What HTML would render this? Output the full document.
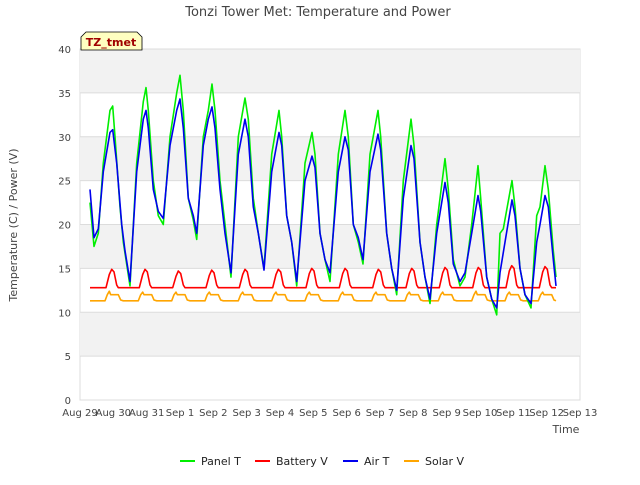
<!DOCTYPE html>
<html><head><meta charset="utf-8"><style>
body{margin:0;background:#fff;font-family:"Liberation Sans","DejaVu Sans",sans-serif}
svg text{font-family:"DejaVu Sans","Liberation Sans",sans-serif}
</style></head><body>
<svg id="c" width="640" height="480">
<rect x="0" y="0" width="640" height="480" fill="#fff"/>
<text x="318" y="16" text-anchor="middle" font-size="13" fill="#444">Tonzi Tower Met: Temperature and Power</text>
<g id="bands"></g><g id="grid"></g><g id="axes"></g><g id="series"></g>
<text x="17" y="225" text-anchor="middle" font-size="11" fill="#444" transform="rotate(-90 17 225)">Temperature (C) / Power (V)</text>
<text x="566" y="433" text-anchor="middle" font-size="11" fill="#444">Time</text>
<g>
<path d="M81,50 L81,37 L86,32 L137,32 L142,37 L142,50 Z" fill="#ffffc0" stroke="#000" stroke-width="0.8"/>
<text x="111" y="46" text-anchor="middle" font-size="11" font-weight="bold" fill="#a00000">TZ_tmet</text>
</g>
<g id="legend"></g>
</svg>
<script>
const yTicks=[0,5,10,15,20,25,30,35,40];
const xTickLabels=["Aug 29","Aug 30","Aug 31","Sep 1","Sep 2","Sep 3","Sep 4","Sep 5","Sep 6","Sep 7","Sep 8","Sep 9","Sep 10","Sep 11","Sep 12","Sep 13"];
const panelT=[[0.3,22.5],[0.42,17.5],[0.55,19],[0.7,27],[0.9,33],[0.98,33.5],[1.05,30],[1.2,22],[1.3,18],[1.5,13],[1.7,27],[1.9,34],[1.98,35.6],[2.05,33],[2.2,25],[2.35,21],[2.5,20],[2.7,30],[2.9,35],[3.0,37],[3.1,33],[3.25,23],[3.4,20.5],[3.5,18.3],[3.7,30],[3.85,33],[3.96,36],[4.05,33],[4.2,25],[4.35,20],[4.53,14],[4.75,30],[4.95,34.4],[5.05,32],[5.2,23],[5.35,19],[5.52,15],[5.75,28],[5.97,33],[6.05,30],[6.2,21],[6.35,18],[6.5,13],[6.75,27],[6.96,30.5],[7.05,28],[7.2,19],[7.35,16],[7.5,13.5],[7.75,28],[7.95,33],[8.05,30],[8.2,20],[8.35,18],[8.49,15.5],[8.7,28],[8.94,33],[9.02,30],[9.2,19],[9.35,15],[9.5,12],[9.7,25],[9.93,32],[10.02,29],[10.2,18],[10.35,14],[10.5,11],[10.7,20],[10.95,27.5],[11.05,24],[11.2,16],[11.4,13],[11.55,14],[11.75,20],[11.94,26.7],[12.02,23],[12.2,14],[12.35,11.5],[12.5,9.7],[12.6,19],[12.7,19.5],[12.96,25],[13.05,22],[13.2,15],[13.35,12],[13.53,10.5],[13.7,21],[13.8,22],[13.95,26.7],[14.05,24],[14.2,17],[14.28,14]];
const airT=[[0.3,24],[0.42,18.5],[0.55,19.5],[0.7,26],[0.9,30.5],[0.98,30.8],[1.1,27],[1.25,20],[1.35,17],[1.5,13.5],[1.7,26],[1.9,32],[1.98,33],[2.05,31],[2.2,24],[2.35,21.5],[2.5,20.7],[2.7,29],[2.9,33],[3.0,34.3],[3.1,31],[3.25,23],[3.4,21],[3.5,19],[3.7,29],[3.85,32],[3.96,33.4],[4.05,31],[4.2,24],[4.35,19],[4.53,14.5],[4.75,28],[4.95,32],[5.05,30],[5.2,22],[5.35,19],[5.52,14.8],[5.75,26],[5.97,30.5],[6.05,29],[6.2,21],[6.35,18],[6.5,13.5],[6.75,25],[6.96,27.8],[7.05,26.5],[7.2,19],[7.35,16],[7.5,14.5],[7.75,26],[7.95,30],[8.05,28.5],[8.2,20],[8.35,18.5],[8.49,16],[8.7,26],[8.94,30.3],[9.02,28.5],[9.2,19],[9.35,15],[9.5,12.5],[9.7,23],[9.93,29],[10.02,27.5],[10.2,18],[10.35,14],[10.5,11.5],[10.7,19],[10.95,24.8],[11.05,22.5],[11.2,15.5],[11.4,13.5],[11.55,14.5],[11.75,19],[11.94,23.3],[12.02,21.5],[12.2,14],[12.35,11.5],[12.5,10.5],[12.6,14.5],[12.75,18],[12.96,22.8],[13.05,21],[13.2,15],[13.35,12],[13.53,11],[13.7,18],[13.8,20],[13.95,23.3],[14.05,22],[14.2,16],[14.28,13]];
const batteryPeaks=[14.9,14.9,14.7,14.8,14.9,14.9,15.0,15.0,14.9,15.0,15.1,15.1,15.3,15.2];
const solarPeaks=[12.4,12.3,12.3,12.3,12.3,12.3,12.3,12.3,12.3,12.3,12.3,12.4,12.3,12.3];
const batteryBase=12.8, solarBase=11.3, solarPlateau=12.0;

const X0=80,X1=580,Y0=400,Y1=49;
const sx=d=>X0+d*(X1-X0)/15;
const sy=v=>Y0-v*(Y0-Y1)/40;
const NS="http://www.w3.org/2000/svg";
function mk(tag,attrs,parent){const e=document.createElementNS(NS,tag);for(const k in attrs)e.setAttribute(k,attrs[k]);parent.appendChild(e);return e;}
const bands=document.getElementById('bands'),grid=document.getElementById('grid'),axes=document.getElementById('axes'),ser=document.getElementById('series');
mk('rect',{x:X0,y:Y1,width:X1-X0,height:Y0-Y1,fill:'#fff',stroke:'#ddd'},bands);
for(let i=0;i<yTicks.length-1;i+=2){
  const r=mk('rect',{x:X0,y:sy(yTicks[i+2]||40),width:X1-X0,height:sy(yTicks[i+1])-sy(yTicks[i+2]||40),fill:'#f2f2f2'},bands);
  
  
}
yTicks.forEach(v=>{
  const l=mk('line',{x1:X0,x2:X1,y1:sy(v),y2:sy(v),stroke:'#dcdcdc'},grid);
  
  
  const t=mk('text',{x:X0-9,y:sy(v)+4,'text-anchor':'end','font-size':10,fill:'#444'},axes);
  t.textContent=v;
  
  
});
xTickLabels.forEach((s,i)=>{
  const t=mk('text',{x:sx(i),y:Y0+16,'text-anchor':'middle','font-size':10,fill:'#444'},axes);
  t.textContent=s;
  
  
});
function line(pts,color,name){
  const p=mk('polyline',{points:pts.map(q=>sx(q[0]).toFixed(1)+','+sy(q[1]).toFixed(1)).join(' '),fill:'none',stroke:color,'stroke-width':1.6,'stroke-linejoin':'round'},ser);
  
  
}
const bat=[],sol=[];
batteryPeaks.forEach((pk,i)=>{
  bat.push([i+0.3,batteryBase],[i+0.78,batteryBase],[i+0.88,pk-0.6],[i+0.95,pk],[i+1.02,pk-0.3],[i+1.1,batteryBase+0.3],[i+1.15,batteryBase]);
});
solarPeaks.forEach((pk,i)=>{
  sol.push([i+0.3,solarBase],[i+0.75,solarBase],[i+0.82,solarPlateau],[i+0.88,pk],[i+0.92,solarPlateau],[i+1.15,solarPlateau],[i+1.22,solarBase+0.1]);
});
bat.push([14.28,batteryBase]);sol.push([14.28,solarBase]);
line(sol,'#ffa500','solar-v-line');
line(bat,'#ff0000','battery-v-line');
line(panelT,'#00ee00','panel-t-line');
line(airT,'#0000ee','air-t-line');
const leg=document.getElementById('legend');
[['Panel T','#00ee00',180],['Battery V','#ff0000',255],['Air T','#0000ee',343],['Solar V','#ffa500',404]].forEach(e=>{
  const g=mk('g',{},leg);
  
  
  mk('line',{x1:e[2],x2:e[2]+15,y1:461,y2:461,stroke:e[1],'stroke-width':2},g);
  const t=mk('text',{x:e[2]+21,y:465,'font-size':11,fill:'#222'},g);t.textContent=e[0];
});
</script>
</body></html>
